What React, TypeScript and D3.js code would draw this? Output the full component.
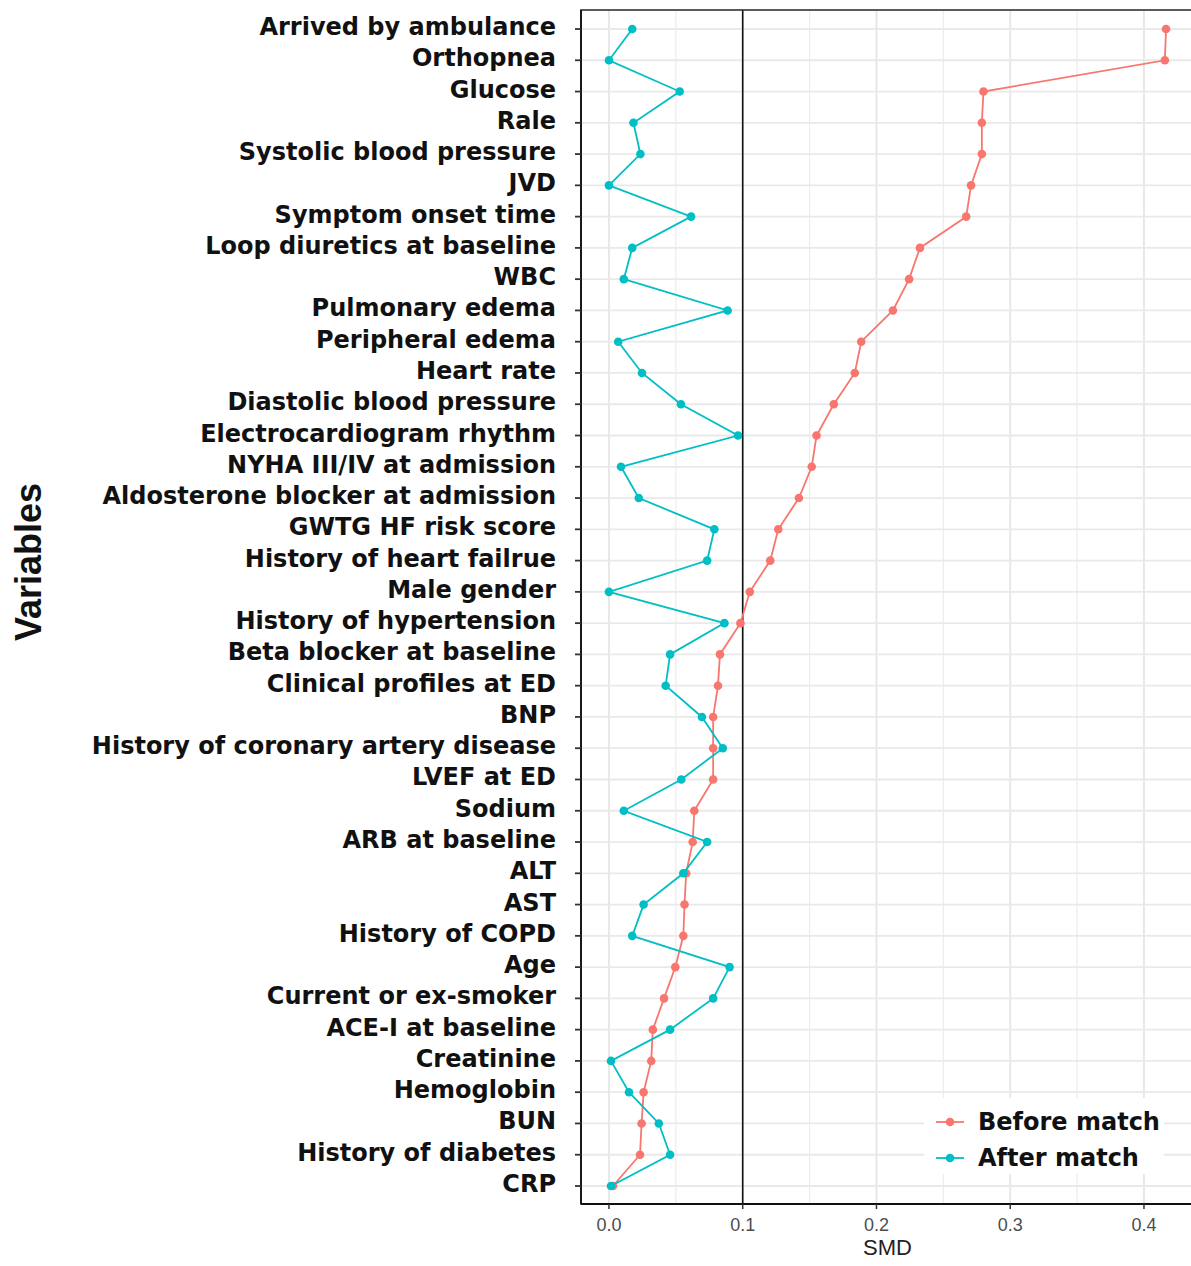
import React from "react";
import * as d3 from "d3";

const variables = [
  "Arrived by ambulance", "Orthopnea", "Glucose", "Rale", "Systolic blood pressure", "JVD",
  "Symptom onset time", "Loop diuretics at baseline", "WBC", "Pulmonary edema", "Peripheral edema",
  "Heart rate", "Diastolic blood pressure", "Electrocardiogram rhythm", "NYHA III/IV at admission",
  "Aldosterone blocker at admission", "GWTG HF risk score", "History of heart failrue", "Male gender",
  "History of hypertension", "Beta blocker at baseline", "Clinical profiles at ED", "BNP",
  "History of coronary artery disease", "LVEF at ED", "Sodium", "ARB at baseline", "ALT", "AST",
  "History of COPD", "Age", "Current or ex-smoker", "ACE-I at baseline", "Creatinine", "Hemoglobin",
  "BUN", "History of diabetes", "CRP",
];

const beforeMatch = [
  0.4165, 0.4156, 0.280, 0.2788, 0.2788, 0.2707, 0.2671, 0.2325, 0.2244, 0.2123, 0.1886,
  0.1838, 0.1681, 0.1552, 0.1516, 0.142, 0.1266, 0.1206, 0.1053, 0.0983, 0.083, 0.0815, 0.0779,
  0.0779, 0.0779, 0.0638, 0.0626, 0.0577, 0.0565, 0.0556, 0.0496, 0.0412, 0.0328, 0.0316, 0.0259,
  0.0244, 0.0232, 0.003,
];

const afterMatch = [
  0.0174, 0.0, 0.0529, 0.0183, 0.0235, 0.0, 0.0614, 0.0174, 0.0111, 0.0887, 0.0069,
  0.0247, 0.0538, 0.0965, 0.009, 0.0223, 0.0788, 0.0734, 0.0, 0.0863, 0.0457, 0.0424, 0.0695,
  0.0851, 0.0541, 0.0111, 0.0734, 0.0556, 0.0259, 0.0174, 0.0902, 0.0779, 0.0457, 0.0015, 0.015,
  0.0373, 0.0457, 0.0015,
];

const xTicks = [0.0, 0.1, 0.2, 0.3, 0.4];
const xMinor = [0.05, 0.15, 0.25, 0.35];
const threshold = 0.1;
const seriesNames = ["Before match", "After match"];
const seriesColors = ["#F8766D", "#00BFC4"];

export default function App() {
  const W = 1191, H = 1266;
  const panel = { left: 581, right: 1194, top: 10, bottom: 1204 };
  const x = d3.scaleLinear().domain([-0.0209, 0.4374]).range([panel.left, panel.right]);
  const y = d3.scalePoint<string>().domain(variables).range([29, 1186]);

  const line = d3.line<[number, string]>().x((d) => x(d[0])).y((d) => y(d[1])!);
  const series = [beforeMatch, afterMatch];

  return (
    <svg width={W} height={H} style={{ position: "absolute", left: 0, top: 0, background: "#fff" }}>
      <rect x={0} y={0} width={W} height={H} fill="#fff" />
      {/* grid */}
      {xMinor.map((t) => (
        <line key={"m" + t} x1={x(t)} x2={x(t)} y1={panel.top} y2={panel.bottom} stroke="#ececec" strokeWidth={1.2} />
      ))}
      {xTicks.map((t) => (
        <line key={"g" + t} x1={x(t)} x2={x(t)} y1={panel.top} y2={panel.bottom} stroke="#e6e6e6" strokeWidth={1.8} />
      ))}
      {variables.map((v) => (
        <line key={"h" + v} x1={panel.left} x2={panel.right} y1={y(v)} y2={y(v)} stroke="#e9e9e9" strokeWidth={1.8} />
      ))}
      {/* threshold */}
      <line x1={x(threshold)} x2={x(threshold)} y1={panel.top} y2={panel.bottom} stroke="#111" strokeWidth={1.6} />
      {/* series */}
      {series.map((vals, si) => (
        <g key={si}>
          <path
            d={line(vals.map((v, i) => [v, variables[i]] as [number, string])) || ""}
            fill="none"
            stroke={seriesColors[si]}
            strokeWidth={1.8}
          />
          {vals.map((v, i) => (
            <circle key={i} cx={x(v)} cy={y(variables[i])} r={4.3} fill={seriesColors[si]} />
          ))}
        </g>
      ))}
      {/* panel border */}
      <rect x={panel.left} y={panel.top} width={panel.right - panel.left} height={panel.bottom - panel.top} fill="none" stroke="#333" strokeWidth={1.6} />
      <line x1={panel.left} x2={panel.left} y1={panel.top} y2={panel.bottom} stroke="#111" strokeWidth={1.8} />
      <line x1={panel.left} x2={panel.right} y1={panel.bottom} y2={panel.bottom} stroke="#111" strokeWidth={1.8} />
      {/* y axis */}
      {variables.map((v) => (
        <g key={"yl" + v}>
          <line x1={panel.left - 6} x2={panel.left} y1={y(v)} y2={y(v)} stroke="#333" strokeWidth={1.8} />
          <text
            x={556}
            y={y(v)! - 2}
            textAnchor="end"
            dominantBaseline="central"
            fontFamily="DejaVu Sans"
            fontWeight="bold"
            fontSize={24}
            fill="#111"
          >
            {v}
          </text>
        </g>
      ))}
      {/* x axis */}
      {xTicks.map((t) => (
        <g key={"xt" + t}>
          <line x1={x(t)} x2={x(t)} y1={panel.bottom} y2={panel.bottom + 5} stroke="#333" strokeWidth={1.5} />
          <text x={x(t)} y={1225} textAnchor="middle" dominantBaseline="central" fontFamily="Liberation Sans" fontSize={18} fill="#4d4d4d">
            {d3.format(".1f")(t)}
          </text>
        </g>
      ))}
      <text x={(panel.left + panel.right) / 2} y={1247} textAnchor="middle" dominantBaseline="central" fontFamily="Liberation Sans" fontSize={22} fill="#222">
        SMD
      </text>
      <text
        transform={`translate(28, 562) rotate(-90)`}
        textAnchor="middle"
        dominantBaseline="central"
        fontFamily="Liberation Sans"
        fontWeight="bold"
        fontSize={36}
        fill="#111"
      >
        Variables
      </text>
      {/* legend */}
      <rect x={924} y={1098} width={240} height={76} fill="#fff" />
      {seriesNames.map((n, i) => (
        <g key={n} transform={`translate(936, ${1122 + i * 36})`}>
          <line x1={0} x2={28} y1={0} y2={0} stroke={seriesColors[i]} strokeWidth={1.8} />
          <circle cx={14} cy={0} r={4.3} fill={seriesColors[i]} />
          <text x={42} y={0} dominantBaseline="central" fontFamily="DejaVu Sans" fontWeight="bold" fontSize={24} fill="#111">
            {n}
          </text>
        </g>
      ))}
    </svg>
  );
}
